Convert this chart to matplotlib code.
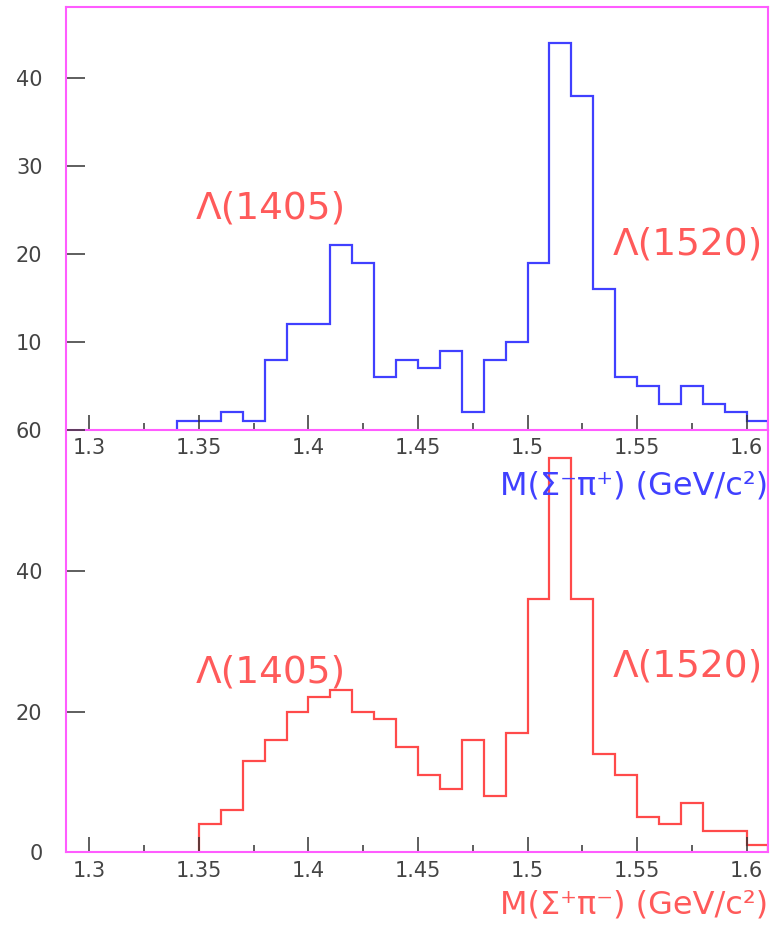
import numpy as np
import matplotlib
matplotlib.use("Agg")
import matplotlib.pyplot as plt
from matplotlib.ticker import FixedLocator

# ---- data ----
bin_width = 0.01
blue_start = 1.34
blue_counts = [1, 1, 2, 1, 8, 12, 12, 21, 19, 6, 8, 7, 9, 2, 8, 10, 19, 44, 38, 16, 6, 5, 3, 5, 3, 2, 1]
red_start = 1.35
red_counts = [4, 6, 13, 16, 20, 22, 23, 20, 19, 15, 11, 9, 16, 8, 17, 36, 56, 36, 14, 11, 5, 4, 7, 3, 3, 1]
x_ticks = [1.3, 1.35, 1.4, 1.45, 1.5, 1.55, 1.6]
x_tick_labels = ["1.3", "1.35", "1.4", "1.45", "1.5", "1.55", "1.6"]
x_minor_ticks = [1.325, 1.375, 1.425, 1.475, 1.525, 1.575]
top_y_ticks = [10, 20, 30, 40]
bot_y_ticks = [0, 20, 40, 60]
label_1405 = "Λ(1405)"
label_1520 = "Λ(1520)"
top_xlabel = "M(Σ⁻π⁺) (GeV/c²)"
bot_xlabel = "M(Σ⁺π⁻) (GeV/c²)"

BLUE = "#4040ff"
RED = "#ff4a4a"
LBL_RED = "#ff5a5a"
MAG = "#ff5cff"
TXT = "#444444"

W, H = 772, 925
fig = plt.figure(figsize=(W / 100, H / 100), dpi=100)
plt.rcParams['font.family'] = ['DejaVu Sans']

left = 66 / W
right = 768 / W
y_top = 1 - 7 / H
y_mid = 1 - 430 / H
y_bot = 1 - 852.3 / H

ax1 = fig.add_axes([left, y_mid, right - left, y_top - y_mid])
ax2 = fig.add_axes([left, y_bot, right - left, y_mid - y_bot])


def edges(start, n):
    return start + bin_width * np.arange(n + 1)


ax1.stairs(blue_counts, edges(blue_start, len(blue_counts)), color=BLUE, lw=1.6, baseline=0)
ax2.stairs(red_counts, edges(red_start, len(red_counts)), color=RED, lw=1.6, baseline=0)

for ax in (ax1, ax2):
    ax.set_xlim(1.2893, 1.6098)
    ax.xaxis.set_major_locator(FixedLocator(x_ticks))
    ax.set_xticklabels(x_tick_labels)
    ax.xaxis.set_minor_locator(FixedLocator(x_minor_ticks))
    ax.tick_params(axis='x', which='major', direction='in', length=11, width=1.1,
                   color='#333333', labelsize=15, labelcolor=TXT, pad=6, top=False)
    ax.tick_params(axis='x', which='minor', direction='in', length=5, width=1.1,
                   color='#333333', top=False)
    ax.tick_params(axis='y', which='major', direction='in', length=13.5, width=1.1,
                   color='#333333', labelsize=15, labelcolor=TXT, pad=17, right=False)
    for s in ax.spines.values():
        s.set_color(MAG)
        s.set_linewidth(1.5)
    ax.patch.set_alpha(0)

ax1.set_ylim(0, 48.1)
ax1.yaxis.set_major_locator(FixedLocator(top_y_ticks))
ax2.set_ylim(0, 60)
ax2.yaxis.set_major_locator(FixedLocator(bot_y_ticks))
ax2.spines['top'].set_visible(False)

# annotations
fig.text(196 / W, 1 - 208 / H, label_1405, color=LBL_RED, fontsize=27, ha='left', va='center')
fig.text(613 / W, 1 - 245 / H, label_1520, color=LBL_RED, fontsize=27, ha='left', va='center')
fig.text(196 / W, 1 - 672 / H, label_1405, color=LBL_RED, fontsize=27, ha='left', va='center')
fig.text(613 / W, 1 - 667 / H, label_1520, color=LBL_RED, fontsize=27, ha='left', va='center')

fig.text(768 / W, 1 - 486 / H, top_xlabel, color=BLUE, fontsize=23, ha='right', va='center')
fig.text(768 / W, 1 - 905 / H, bot_xlabel, color=LBL_RED, fontsize=23, ha='right', va='center')

fig.savefig("out.png", dpi=100)
